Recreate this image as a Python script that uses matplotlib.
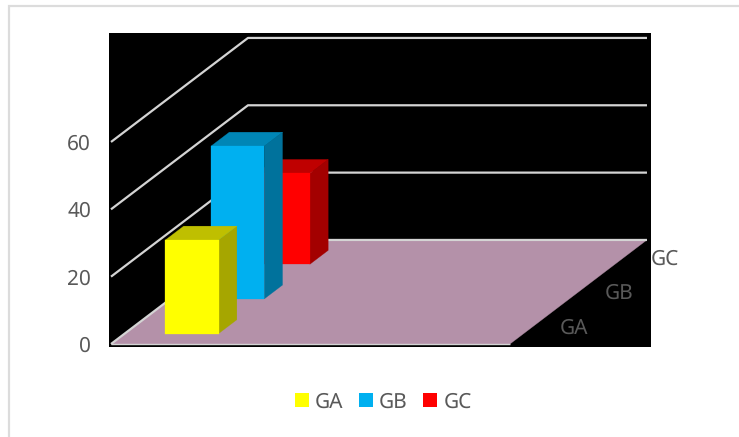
import matplotlib
matplotlib.use('Agg')
import matplotlib.pyplot as plt
from matplotlib.patches import Patch, Polygon, Rectangle

plt.rcParams['font.family'] = ['Noto Sans', 'DejaVu Sans']
plt.rcParams['text.hinting'] = 'no_hinting'

#Data
series = ['GA', 'GB', 'GC']
values = [27.8, 45.4, 27]
y_ticks = [0, 20, 40, 60]

#Colours: front, top and side of each bar
front_colors = ['#ffff00', '#00b0f0', '#ff0000']
top_colors = ['#bfbf00', '#0086b6', '#bf0000']
side_colors = ['#a6a600', '#00729c', '#a30000']
floor_color = '#b491a9'
grid_color = '#d4d4d4'
text_color = '#595959'

#Oblique projection: one depth slot moves this far along the x and y axes
n_categories = 3
depth_dx = 0.3433
depth_dy = 10.3
bar_left = 0.306
bar_right = 0.706
bar_gap = 0.3
label_size = 15


def project(x, depth, value):
    return (x + depth * depth_dx, value + depth * depth_dy)


def face(ax, corners, color, zorder):
    ax.add_patch(Polygon([project(*c) for c in corners], closed=True, facecolor=color,
                         edgecolor=color, linewidth=0.2, zorder=zorder))


def draw_bar(ax, slot, value, front, top, side):
    x0, x1 = bar_left, bar_right
    d0, d1 = slot + bar_gap, slot + 1 - bar_gap
    zorder = 10 - slot
    face(ax, [(x1, d0, 0), (x1, d1, 0), (x1, d1, value), (x1, d0, value)], side, zorder)
    face(ax, [(x0, d0, value), (x1, d0, value), (x1, d1, value), (x0, d1, value)], top, zorder)
    face(ax, [(x0, d0, 0), (x1, d0, 0), (x1, d0, value), (x0, d0, value)], front, zorder)


W, H = 739, 437
fig = plt.figure(figsize=(W / 100, H / 100), dpi=100, facecolor='white')

#Chart frame
fig.add_artist(Rectangle((8.5 / W, -0.02), 1.1, 1 - 5.5 / H + 0.02, transform=fig.transFigure,
                         facecolor='none', edgecolor='#dcdcdc', linewidth=1.6))

ax = fig.add_axes([109 / W, 1 - 347 / H, 542 / W, 314 / H], facecolor='black')
ax.set_xlim(-2 / 133, 540 / 133)
ax.set_ylim(-3 / 3.367, 311 / 3.367)
ax.set_xticks([])
ax.set_yticks(y_ticks)
ax.tick_params(axis='y', length=0, pad=13, labelsize=label_size, labelcolor=text_color)
for spine in ax.spines.values():
    spine.set_visible(False)

#Floor
face(ax, [(0, 0, 0), (n_categories, 0, 0), (n_categories, 3, 0), (0, 3, 0)], floor_color, 1)

#Gridlines on the side and back walls
for tick in y_ticks:
    pts = [project(0, 0, tick), project(0, 3, tick), project(n_categories, 3, tick)]
    ax.plot([p[0] for p in pts], [p[1] for p in pts], color=grid_color, linewidth=1.6,
            solid_capstyle='butt', zorder=2)
ax.plot([0, n_categories], [0, 0], color=grid_color, linewidth=1, solid_capstyle='butt', zorder=2)

for slot, (value, front, top, side) in enumerate(zip(values, front_colors, top_colors, side_colors)):
    draw_bar(ax, slot, value, front, top, side)

#Depth axis labels
for slot, name in enumerate(series):
    x, y = project(n_categories + 0.308, slot + 0.5, -0.5)
    ax.text(x, y, name, color=text_color, fontsize=label_size, ha='center', va='center', zorder=12)

handles = [Patch(facecolor=c, edgecolor='none', label=s) for c, s in zip(front_colors, series)]
fig.legend(handles=handles, loc='center', bbox_to_anchor=(383.5 / W, 1 - 402 / H), ncols=3, frameon=False,
           fontsize=label_size, labelcolor=text_color, handlelength=0.67, handleheight=0.67,
           handletextpad=0.28, columnspacing=0.75, borderpad=0, borderaxespad=0)

fig.savefig('out.png', dpi=100)
